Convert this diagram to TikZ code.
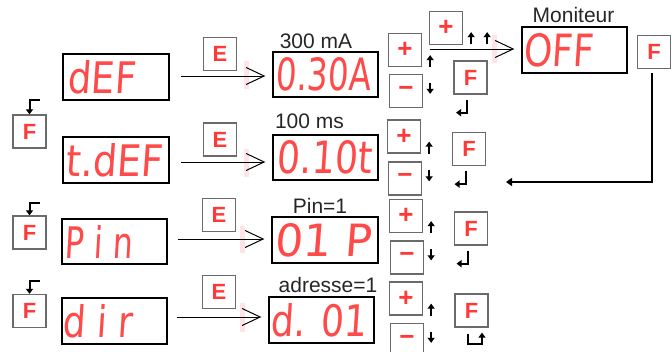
\documentclass[tikz,border=0pt]{standalone}
\usepackage{fontspec}
\setmainfont{Liberation Sans}
\newfontfamily\segfont[FakeSlant=0.08]{DejaVu Sans}
\usetikzlibrary{arrows.meta}
\definecolor{segred}{HTML}{FF4A4A}
\definecolor{keyred}{HTML}{FF3838}
\definecolor{keygray}{HTML}{6A6A6A}
\definecolor{ghost}{HTML}{FCE4E9}
\newcommand\segtxt[2]{\resizebox{#1pt}{33pt}{\segfont #2}}
\begin{document}
\begin{tikzpicture}[x=1pt,y=-1pt,
 disp/.style={draw=black,line width=1.4pt,minimum width=105pt,minimum height=45pt,inner sep=0pt},
 seg/.style={text=segred,inner sep=0pt,anchor=west},
 key/.style={draw=keygray,line width=1.3pt,minimum width=33pt,minimum height=33pt,inner sep=0pt,text=keyred,font=\fontsize{22}{22}\selectfont\bfseries},
 pm/.style={key,font=\fontsize{26}{26}\selectfont\bfseries},
 lbl/.style={font=\fontsize{21}{21}\selectfont,anchor=base,inner sep=0pt,text=black!85},
 bigarrow/.style={line width=1pt,-{Straight Barb[length=18pt,width=17pt,line width=1pt]},shorten >=7pt},
 sarrow/.style={line width=2pt,-{Triangle[length=5pt,width=7pt]}},
 retarrow/.style={line width=2.8pt,-{Triangle[length=6pt,width=8pt]}}]
\useasboundingbox (0,0) rectangle (671,351);

% faint marks near arrow heads
\fill[ghost] (244,61) rectangle (249,89);
\fill[ghost] (244,149) rectangle (249,177);
\fill[ghost] (240,226) rectangle (245,253);
\fill[ghost] (240,303) rectangle (245,332);
\fill[ghost] (492,35) rectangle (497,63);

% left displays
\node[disp,minimum width=106pt,minimum height=46pt] (d1) at (116,77) {};
\node[seg] (d1t) at ([xshift=5pt]d1.west) {\segtxt{68}{dEF}};
\node[disp,minimum width=106pt,minimum height=46pt] (d2) at (116,160) {};
\node[seg] (d2t) at ([xshift=3pt]d2.west) {\segtxt{97}{t.dEF}};
\node[disp] (d3) at (114.5,241.5) {};
\node[seg] (d3t) at ([xshift=3pt]d3.west) {\segtxt{68}{P i n}};
\node[disp,minimum height=46pt] (d4) at (114.5,321) {};
\node[seg] (d4t) at ([xshift=1pt]d4.west) {\segtxt{70}{d i r}};

% middle displays
\node[disp] (m1) at (325.5,74.5) {};
\node[seg] (m1t) at ([xshift=3pt]m1.west) {\segtxt{95}{0.30A}};
\node[disp] (m2) at (325.5,157.5) {};
\node[seg] (m2t) at ([xshift=4pt]m2.west) {\segtxt{95}{0.10t}};
\node[disp,minimum width=106pt,minimum height=46pt] (m3) at (325,240) {};
\node[seg] (m3t) at ([xshift=3pt]m3.west) {\segtxt{97}{01 P}};
\node[disp,minimum height=46pt] (m4) at (321.5,320) {};
\node[seg] (m4t) at ([xshift=2pt]m4.west) {\segtxt{96}{d. 01}};
\node[disp,minimum height=46pt] (off) at (574.5,50) {};
\node[seg] (offt) at ([xshift=2pt]off.west) {\segtxt{70}{OFF}};

% labels
\node[lbl] (l1) at (316,48) {300 mA};
\node[lbl] (l2) at (309.5,128) {100 ms};
\node[lbl] (l3) at (320,213) {Pin=1};
\node[lbl] (l4) at (328,292) {adresse=1};
\node[lbl] (l5) at (573.5,22) {Moniteur};

% keys
\node[key] (e1) at (220,54) {E};
\node[key] (e2) at (220,139.5) {E};
\node[key] (e3) at (219,215) {E};
\node[key] (e4) at (219,292) {E};
\node[key] (lf1) at (29.5,131.5) {F};
\node[key] (lf2) at (29.5,232.5) {F};
\node[key] (lf3) at (29.5,311) {F};
\node[pm] (p1) at (405,50) {+};
\node[pm] (n1) at (406,91) {−};
\node[pm] (p2) at (404,136.5) {+};
\node[pm] (n2) at (405,178.5) {−};
\node[pm] (p3) at (406,216) {+};
\node[pm] (n3) at (407,257.5) {−};
\node[pm] (p4) at (406,298.5) {+};
\node[pm] (n4) at (407,340) {−};
\node[key] (f1) at (470.5,77.5) {F};
\node[key] (f2) at (469,149) {F};
\node[key] (f3) at (471,228.5) {F};
\node[key] (f4) at (471.5,310.5) {F};
\node[pm] (tp) at (446,28) {+};
\node[key] (fr) at (654,52) {F};

% E arrows
\coordinate (s1) at (181,76);
\coordinate (s2) at (181,162);
\coordinate (s3) at (178,239);
\coordinate (s4) at (177,317);
\coordinate (s5) at (430,49);
\draw[bigarrow] (s1) -- (s1 -| m1.west);
\draw[bigarrow] (s2) -- (s2 -| m2.west);
\draw[bigarrow] (s3) -- (s3 -| m3.west);
\draw[bigarrow] (s4) -- (s4 -| m4.west);
\draw[bigarrow] (s5) -- (s5 -| off.west);

% return from monitor
\coordinate (rc) at (652,182);
\coordinate (re) at (506,182);
\draw[retarrow,shorten <=4pt] (rc |- fr.south) -- (rc) -- (re);

% small up / down arrows
\foreach \k in {1,...,4}{
  \draw[sarrow] ([xshift=8pt]p\k.south east) -- ++(0,-12);
  \draw[sarrow] ([xshift=7pt,yshift=-9pt]n\k.north east) -- ++(0,11);
}
\draw[sarrow] ([xshift=8pt,yshift=1pt]tp.south east) -- ++(0,-12);
\draw[sarrow] ([xshift=24pt,yshift=1pt]tp.south east) -- ++(0,-12);

% enter arrows under F keys
\foreach \k in {1,2,3}{
  \draw[sarrow] ([xshift=-3.5pt,yshift=-5pt]f\k.south) -- ++(0,13) -- ++(-11,0);
}
\draw[sarrow] ([xshift=-3.5pt,yshift=-6pt]f4.south) -- ++(0,10) -- ++(14,0) -- ++(0,-11);

% hooks above left F keys
\foreach \k/\h in {1/14,2/12,3/13}{
  \draw[sarrow] ([xshift=10pt,yshift=\h pt]lf\k.north) -- ([yshift=\h pt]lf\k.north) -- (lf\k.north);
}
\end{tikzpicture}
\end{document}
